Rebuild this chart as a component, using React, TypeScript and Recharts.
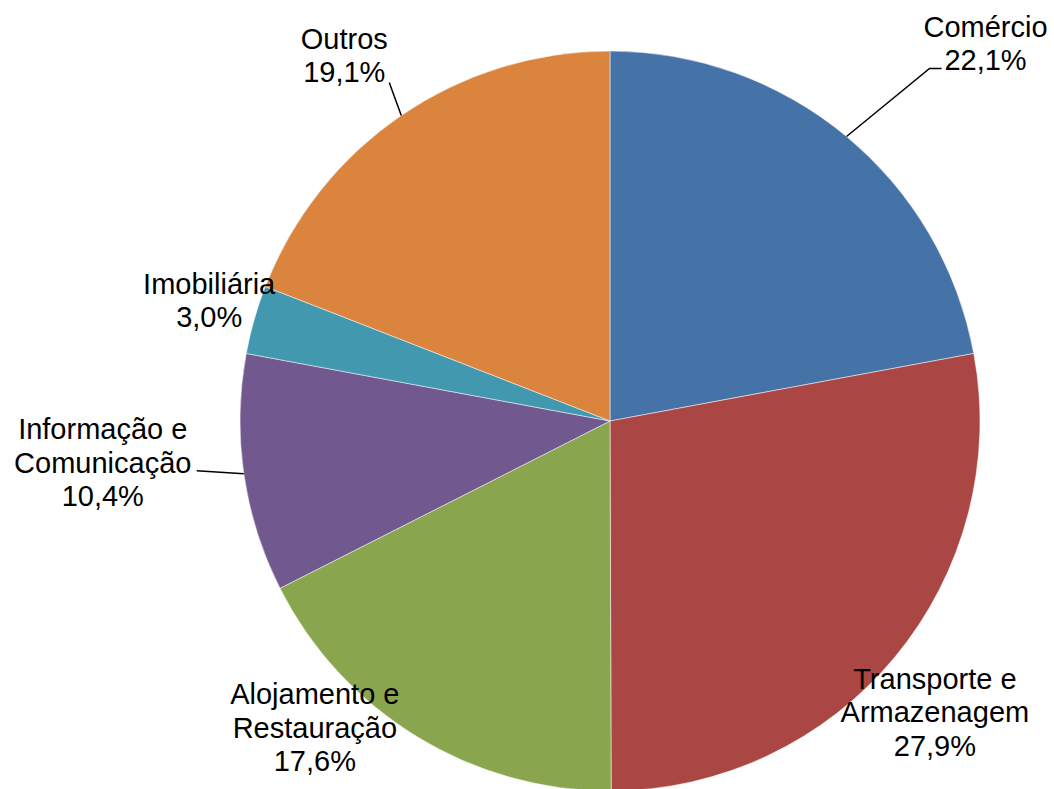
import { PieChart, Pie, Cell } from 'recharts';

const sectors = ['Comércio', 'Transporte e Armazenagem', 'Alojamento e Restauração', 'Informação e Comunicação', 'Imobiliária', 'Outros'];
const shares = [22.1, 27.9, 17.6, 10.4, 3.0, 19.1];
const colors = ['#4572A7', '#AA4643', '#89A54E', '#71588F', '#4198AF', '#DB843D'];

// label placement relative to the point on the rim at each slice's mid angle
const LABEL_LAYOUT = [
  { dx: 139, dy: -93, leader: [[83, -68], [95, -68]] },
  { dx: 40, dy: 55, leader: [] },
  { dx: -102, dy: -9, leader: [] },
  { dx: -141, dy: -11, leader: [[-47, -3]] },
  { dx: -45, dy: -19, leader: [] },
  { dx: -57, dy: -60, leader: [[-12, -33]] },
];

const data = sectors.map((name, i) => ({ name, value: shares[i] }));

const RAD = Math.PI / 180;
const LINE_H = 33.5;

const renderLabel = (props: any) => {
  const { cx, cy, midAngle, outerRadius, index, value, name } = props;
  const ax = cx + outerRadius * Math.cos(-midAngle * RAD);
  const ay = cy + outerRadius * Math.sin(-midAngle * RAD);
  const layout = LABEL_LAYOUT[index];
  const lines = [...name.replace(' e ', ' e\n').split('\n'), value.toFixed(1).replace('.', ',') + '%'];
  const tx = ax + layout.dx;
  const ty = ay + layout.dy;
  const pts = [[0, 0], ...layout.leader].map(([x, y]) => `${ax + x},${ay + y}`).join(' ');
  return (
    <g key={`lbl-${index}`}>
      {layout.leader.length > 0 && <polyline points={pts} fill="none" stroke="#000" strokeWidth={1.5} />}
      {lines.map((t: string, i: number) => (
        <text
          key={i}
          x={tx}
          y={ty + (i - (lines.length - 1) / 2) * LINE_H}
          textAnchor="middle"
          dominantBaseline="central"
          fill="#000"
          fontSize={29}
          fontFamily="'Liberation Sans', Arial, sans-serif"
        >
          {t}
        </text>
      ))}
    </g>
  );
};

export default function App() {
  return (
    <div style={{ position: 'absolute', left: 0, top: 0, width: 1054, height: 789, background: '#fff' }}>
      <PieChart width={1054} height={789} margin={{ top: 0, right: 0, bottom: 0, left: 0 }}>
        <Pie
          data={data}
          dataKey="value"
          nameKey="name"
          cx={610}
          cy={421}
          outerRadius={370}
          startAngle={90}
          endAngle={-270}
          stroke="#ffffff"
          strokeWidth={0.5}
          label={renderLabel}
          labelLine={false}
          isAnimationActive={false}
        >
          {data.map((d, i) => (
            <Cell key={d.name} fill={colors[i]} />
          ))}
        </Pie>
      </PieChart>
    </div>
  );
}
